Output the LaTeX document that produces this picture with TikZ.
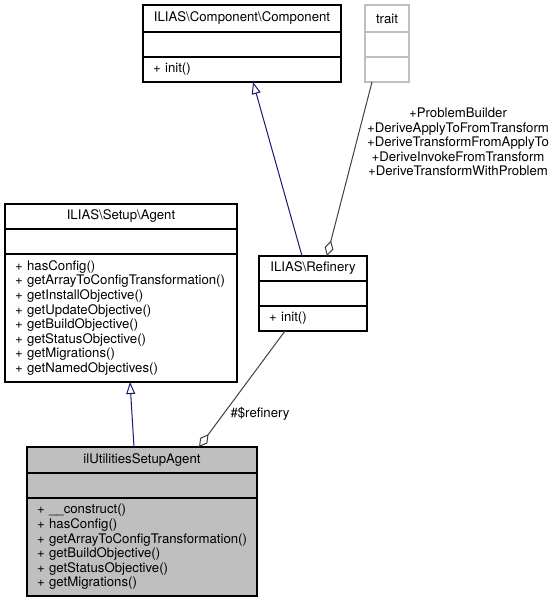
\documentclass[tikz,border=0pt]{standalone}
\usepackage{xcolor}
\usepackage{tikz}
\usepackage{fontspec}
\setmainfont{TeX Gyre Heros}
\definecolor{doxnavy}{RGB}{25, 25, 112}
\definecolor{doxedge}{RGB}{64, 64, 64}
\definecolor{doxgrey}{RGB}{191, 191, 191}
\usetikzlibrary{arrows.meta}

\begin{document}
\begin{tikzpicture}[x=1bp, y=-1bp,
    every node/.style={font=\fontsize{13.2bp}{14.6bp}\selectfont, inner sep=0pt, outer sep=0pt},
    classhead/.style={draw, line width=1.2bp, anchor=north west, align=center},
    classpart/.style={draw, line width=1.2bp, anchor=north west},
    classops/.style={draw, line width=1.2bp, anchor=north west, align=left, inner xsep=10bp},
    inherit/.style={doxnavy, line width=1bp, -{Triangle[open, length=12bp, width=9bp]}},
    aggreg/.style={doxedge, line width=1bp, -{Diamond[open, length=16bp, width=9bp]}}]
    \useasboundingbox (0,0) rectangle (557,603);
    % ILIAS\Component\Component
    \node[classhead, minimum width=198bp, minimum height=27bp] (comphead) at (143,5) {ILIAS\textbackslash Component\textbackslash Component};
    \node[classpart, minimum width=198bp, minimum height=25bp] (compattr) at (comphead.south west) {};
    \node[classops, text width=178bp, minimum height=25bp] (compops) at (compattr.south west) {+ init()};
    % trait
    \node[classhead, draw=doxgrey, minimum width=44bp, minimum height=27bp] (traithead) at (365,5) {trait};
    \node[classpart, draw=doxgrey, minimum width=44bp, minimum height=25bp] (traitattr) at (traithead.south west) {};
    \node[classpart, draw=doxgrey, minimum width=44bp, minimum height=25bp] (traitops) at (traitattr.south west) {};
    % ILIAS\Setup\Agent
    \node[classhead, minimum width=232bp, minimum height=25bp] (agenthead) at (5,204) {ILIAS\textbackslash Setup\textbackslash Agent};
    \node[classpart, minimum width=232bp, minimum height=25bp] (agentattr) at (agenthead.south west) {};
    \node[classops, text width=212bp, minimum height=128bp] (agentops) at (agentattr.south west) {+ hasConfig()\\+ getArrayToConfigTransformation()\\+ getInstallObjective()\\+ getUpdateObjective()\\+ getBuildObjective()\\+ getStatusObjective()\\+ getMigrations()\\+ getNamedObjectives()};
    % ILIAS\Refinery
    \node[classhead, minimum width=108bp, minimum height=25bp] (refhead) at (259,256) {ILIAS\textbackslash Refinery};
    \node[classpart, minimum width=108bp, minimum height=25bp] (refattr) at (refhead.south west) {};
    \node[classops, text width=88bp, minimum height=25bp] (refops) at (refattr.south west) {+ init()};
    % ilUtilitiesSetupAgent
    \node[classhead, fill=doxgrey, minimum width=230bp, minimum height=26bp] (ilhead) at (27,447) {ilUtilitiesSetupAgent};
    \node[classpart, fill=doxgrey, minimum width=230bp, minimum height=25bp] (ilattr) at (ilhead.south west) {};
    \node[classops, fill=doxgrey, text width=210bp, minimum height=98bp] (ilops) at (ilattr.south west) {+ \_\_construct()\\+ hasConfig()\\+ getArrayToConfigTransformation()\\+ getBuildObjective()\\+ getStatusObjective()\\+ getMigrations()};
    % edges
    \draw[inherit] ([xshift=-11bp]refhead.north) -- ([xshift=11bp]compops.south);
    \draw[aggreg] ([xshift=-15bp]traitops.south) -- ([xshift=14bp]refhead.north);
    \draw[inherit] ([xshift=-8bp]ilhead.north) -- ([xshift=9bp]agentops.south);
    \draw[aggreg] ([xshift=-28bp]refops.south) -- ([xshift=57bp]ilhead.north);
    \node[align=center] (traitlbl) at (458,142) {+ProblemBuilder\\+DeriveApplyToFromTransform\\+DeriveTransformFromApplyTo\\+DeriveInvokeFromTransform\\+DeriveTransformWithProblem};
    \node (reflbl) at (260,414) {\#\$refinery};
\end{tikzpicture}
\end{document}
